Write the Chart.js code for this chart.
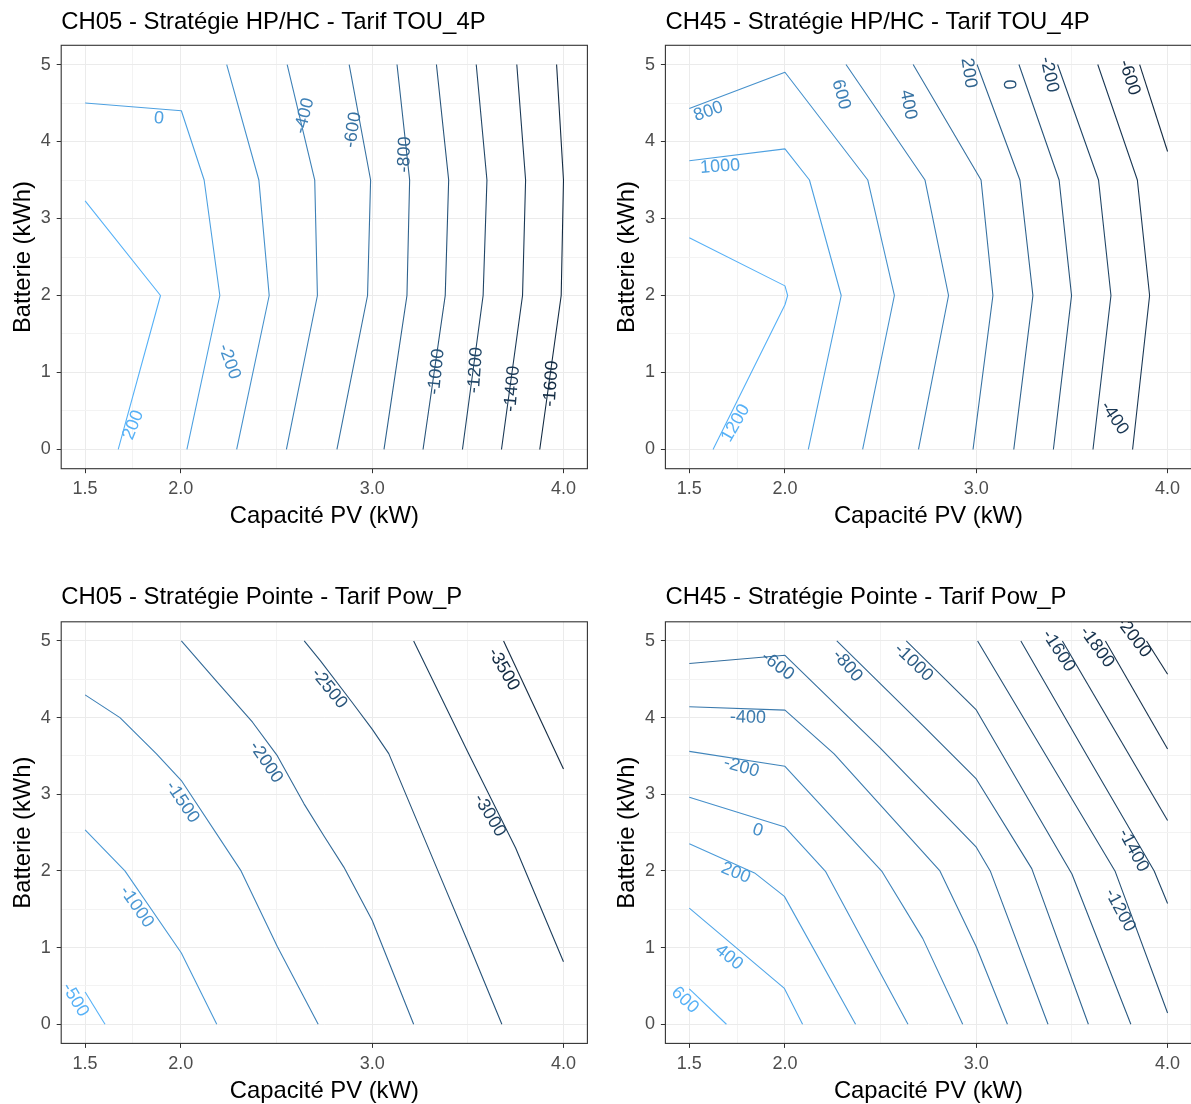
<!DOCTYPE html>
<html>
<head>
<meta charset="utf-8">
<script src="https://cdn.jsdelivr.net/npm/chart.js@4.4.1/dist/chart.umd.min.js"></script>
<style>
  html, body { margin: 0; padding: 0; background: #fff; }
  body { width: 1191px; height: 1104px; position: relative; overflow: hidden; }
  canvas { position: absolute; }
</style>
</head>
<body>
<canvas id="c1" width="595" height="552" style="left:0;top:0"></canvas>
<canvas id="c2" width="600" height="552" style="left:596px;top:0"></canvas>
<canvas id="c3" width="595" height="556" style="left:0;top:552px"></canvas>
<canvas id="c4" width="600" height="556" style="left:596px;top:552px"></canvas>
<script>
// axes
const pvMajor = [1.5, 2.0, 3.0, 4.0];
const pvMinor = [1.75, 2.5, 3.5];
const battMajor = [0, 1, 2, 3, 4, 5];
const battMinor = [0.5, 1.5, 2.5, 3.5, 4.5];
const pvRange = [1.375, 4.125];
const battRange = [-0.25, 5.25];

// CH05 - HP/HC - TOU_4P
const hpLevels05 = [200, 0, -200, -400, -600, -800, -1000, -1200, -1400, -1600];
const hpLines05 = [
  [[1.5, 3.23], [1.894, 2.0], [1.673, 0]],
  [[1.5, 4.5], [2.003, 4.4], [2.122, 3.5], [2.204, 2.0], [2.032, 0]],
  [[2.24, 5], [2.408, 3.5], [2.462, 2.0], [2.292, 0]],
  [[2.556, 5], [2.70, 3.5], [2.714, 2.0], [2.552, 0]],
  [[2.88, 5], [2.992, 3.5], [2.976, 2.0], [2.816, 0]],
  [[3.13, 5], [3.196, 3.5], [3.182, 2.0], [3.062, 0]],
  [[3.336, 5], [3.40, 3.5], [3.382, 2.0], [3.266, 0]],
  [[3.544, 5], [3.60, 3.5], [3.58, 2.0], [3.472, 0]],
  [[3.756, 5], [3.802, 3.5], [3.786, 2.0], [3.676, 0]],
  [[3.964, 5], [4.0, 3.5], [3.988, 2.0], [3.876, 0]]
];
const hpLabels05 = [
  [0, 1.886, 4.30, 5], [200, 1.751, 0.317, -68], [-200, 2.253, 1.14, 70],
  [-400, 2.646, 4.334, -76], [-600, 2.90, 4.15, -81], [-800, 3.17, 3.83, -88],
  [-1000, 3.336, 1.01, -84], [-1200, 3.54, 1.03, -86], [-1400, 3.732, 0.787, -85],
  [-1600, 3.936, 0.854, -86]
];

// CH45 - HP/HC - TOU_4P
const hpLevels45 = [1200, 1000, 800, 600, 400, 200, 0, -200, -400, -600];
const hpLines45 = [
  [[1.5, 2.75], [2.0, 2.125], [2.014, 2.0], [2.0, 1.88], [1.624, 0]],
  [[1.5, 3.75], [2.0, 3.905], [2.128, 3.5], [2.294, 2.0], [2.122, 0]],
  [[1.5, 4.43], [2.0, 4.9], [2.433, 3.5], [2.572, 2.0], [2.406, 0]],
  [[2.319, 5], [2.732, 3.5], [2.855, 2.0], [2.698, 0]],
  [[2.67, 5], [3.025, 3.5], [3.087, 2.0], [2.983, 0]],
  [[3.004, 5], [3.228, 3.5], [3.296, 2.0], [3.196, 0]],
  [[3.223, 5], [3.433, 3.5], [3.498, 2.0], [3.403, 0]],
  [[3.425, 5], [3.639, 3.5], [3.704, 2.0], [3.61, 0]],
  [[3.635, 5], [3.842, 3.5], [3.906, 2.0], [3.817, 0]],
  [[3.854, 5], [4.0, 3.87]]
];
const hpLabels45 = [
  [1200, 1.742, 0.34, -60], [1000, 1.661, 3.674, -4], [800, 1.60, 4.39, -20],
  [600, 2.293, 4.61, 75], [400, 2.644, 4.478, 79], [200, 2.96, 4.89, 82],
  [0, 3.17, 4.74, 88], [-200, 3.381, 4.87, 78], [-400, 3.722, 0.407, 56],
  [-600, 3.80, 4.83, 72]
];

// CH05 - Pointe - Pow_P
const ptLevels05 = [-500, -1000, -1500, -2000, -2500, -3000, -3500];
const ptLines05 = [
  [[1.5, 0.42], [1.604, 0]],
  [[1.5, 2.537], [1.708, 2.0], [2.003, 0.93], [2.188, 0]],
  [[1.5, 4.297], [1.682, 4.0], [1.873, 3.526], [2.003, 3.179], [2.315, 2.0], [2.505, 1.01], [2.718, 0]],
  [[2.003, 5], [2.185, 4.48], [2.375, 3.94], [2.505, 3.5], [2.644, 2.875], [2.75, 2.45], [2.852, 2.05], [3.0, 1.357], [3.217, 0]],
  [[2.645, 5], [2.73, 4.74], [2.895, 4.2], [3.0, 3.85], [3.087, 3.53], [3.339, 2.03], [3.496, 1.1], [3.678, 0]],
  [[3.217, 5], [3.5, 3.55], [3.75, 2.3], [4.0, 0.815]],
  [[3.687, 5], [4.0, 3.33]]
];
const ptLabels05 = [
  [-500, 1.448, 0.317, 59], [-1000, 1.769, 1.531, 55], [-1500, 2.008, 2.897, 56],
  [-2000, 2.445, 3.417, 56], [-2500, 2.775, 4.38, 51], [-3000, 3.614, 2.723, 59],
  [-3500, 3.687, 4.63, 60]
];

// CH45 - Pointe - Pow_P
const ptLevels45 = [600, 400, 200, 0, -200, -400, -600, -800, -1000, -1200, -1400, -1600, -1800, -2000];
const ptLines45 = [
  [[1.5, 0.46], [1.694, 0]],
  [[1.5, 1.515], [1.997, 0.467], [2.092, 0]],
  [[1.5, 2.354], [1.841, 1.974], [1.997, 1.668], [2.369, 0]],
  [[1.5, 2.962], [2.0, 2.572], [2.213, 1.99], [2.643, 0]],
  [[1.5, 3.56], [2.0, 3.365], [2.508, 1.99], [2.72, 1.12], [2.929, 0]],
  [[1.5, 4.141], [2.0, 4.098], [2.257, 3.526], [2.81, 2.0], [3.0, 1.01], [3.163, 0]],
  [[1.5, 4.705], [2.0, 4.813], [2.5, 3.6], [3.0, 2.31], [3.073, 2.0], [3.375, 0]],
  [[2.271, 5], [2.72, 3.9], [3.0, 3.2], [3.29, 2.03], [3.586, 0]],
  [[2.634, 5], [3.0, 4.1], [3.5, 1.96], [3.808, 0]],
  [[3.007, 5], [3.366, 3.5], [3.725, 2.0], [4.0, 0.147]],
  [[3.233, 5], [3.58, 3.5], [3.93, 2.0], [4.0, 1.574]],
  [[3.45, 5], [4.0, 2.658]],
  [[3.675, 5], [4.0, 3.59]],
  [[3.89, 5], [4.0, 4.566]]
];
const ptLabels45 = [
  [600, 1.477, 0.314, 43], [400, 1.708, 0.873, 39], [200, 1.743, 1.974, 22],
  [0, 1.858, 2.528, 17], [-200, 1.772, 3.352, 16], [-400, 1.807, 4.0, 2],
  [-600, 1.962, 4.675, 37], [-800, 2.326, 4.675, 49], [-1000, 2.672, 4.718, 44],
  [-1200, 3.751, 1.487, 62], [-1400, 3.821, 2.268, 62], [-1600, 3.43, 4.87, 57],
  [-1800, 3.63, 4.92, 54], [-2000, 3.822, 5.05, 53]
];

const FONT = '"Liberation Sans", Arial, sans-serif';
const LOW = '#132B43';
const HIGH = '#56B1F7';

// ggplot's default gradient is interpolated in Lab space
function hexToRgb(h) {
  return [1, 3, 5].map(i => parseInt(h.substr(i, 2), 16));
}
function toLinear(c) {
  c /= 255;
  return c <= 0.04045 ? c / 12.92 : Math.pow((c + 0.055) / 1.055, 2.4);
}
function fromLinear(c) {
  c = c <= 0.0031308 ? 12.92 * c : 1.055 * Math.pow(c, 1 / 2.4) - 0.055;
  return Math.round(Math.max(0, Math.min(1, c)) * 255);
}
function rgbToLab(rgb) {
  const [r, g, b] = rgb.map(toLinear);
  const x = (0.4124 * r + 0.3576 * g + 0.1805 * b) / 0.95047;
  const y = 0.2126 * r + 0.7152 * g + 0.0722 * b;
  const z = (0.0193 * r + 0.1192 * g + 0.9505 * b) / 1.08883;
  const f = t => t > 0.008856 ? Math.cbrt(t) : 7.787 * t + 16 / 116;
  return [116 * f(y) - 16, 500 * (f(x) - f(y)), 200 * (f(y) - f(z))];
}
function labToRgb(lab) {
  const fy = (lab[0] + 16) / 116, fx = fy + lab[1] / 500, fz = fy - lab[2] / 200;
  const inv = t => t * t * t > 0.008856 ? t * t * t : (t - 16 / 116) / 7.787;
  const x = inv(fx) * 0.95047, y = inv(fy), z = inv(fz) * 1.08883;
  return [
    3.2406 * x - 1.5372 * y - 0.4986 * z,
    -0.9689 * x + 1.8758 * y + 0.0415 * z,
    0.0557 * x - 0.2040 * y + 1.0570 * z
  ].map(fromLinear);
}
const labLow = rgbToLab(hexToRgb(LOW));
const labHigh = rgbToLab(hexToRgb(HIGH));

function levelColour(level, levels) {
  const lo = Math.min(...levels), hi = Math.max(...levels);
  const t = (level - lo) / (hi - lo);
  const rgb = labToRgb(labLow.map((v, i) => v + (labHigh[i] - v) * t));
  return 'rgb(' + rgb.join(',') + ')';
}

function decoPlugin(panel) {
  return {
    id: 'deco',
    afterDatasetsDraw(chart) {
      const {ctx, chartArea: a, scales: {x, y}} = chart;
      ctx.save();
      ctx.beginPath();
      ctx.rect(a.left, a.top, a.right - a.left, a.bottom - a.top);
      ctx.clip();
      ctx.font = '18px ' + FONT;
      ctx.textAlign = 'center';
      ctx.textBaseline = 'middle';
      panel.labels.forEach(([lvl, lx, ly, ang]) => {
        ctx.save();
        ctx.translate(x.getPixelForValue(lx), y.getPixelForValue(ly));
        ctx.rotate(ang * Math.PI / 180);
        ctx.fillStyle = levelColour(lvl, panel.levels);
        ctx.fillText(String(lvl), 0, 0);
        ctx.restore();
      });
      ctx.restore();

      ctx.save();
      ctx.strokeStyle = '#333333';
      ctx.lineWidth = 1.1;
      ctx.strokeRect(a.left, a.top, a.right - a.left, a.bottom - a.top);
      ctx.restore();
    },
    afterDraw(chart) {
      const {ctx, chartArea: a} = chart;
      ctx.save();
      ctx.font = '23.9px ' + FONT;
      ctx.fillStyle = '#000000';
      ctx.textAlign = 'left';
      ctx.textBaseline = 'middle';
      ctx.fillText(panel.title, a.left, panel.titleY);
      ctx.restore();
    }
  };
}

function gridOpts(major) {
  return {
    color: c => (c.tick && major.includes(c.tick.value)) ? '#EBEBEB' : '#F3F3F3',
    lineWidth: 1,
    tickColor: c => (c.tick && major.includes(c.tick.value)) ? '#333333' : 'rgba(0,0,0,0)',
    tickLength: 4.5,
    tickWidth: 1
  };
}

function makeChart(id, panel) {
  const datasets = panel.lines.map((pts, i) => ({
    data: pts.map(([x, y]) => ({x: x, y: y})),
    showLine: true,
    pointRadius: 0,
    borderWidth: 1.1,
    borderColor: levelColour(panel.levels[i], panel.levels),
    borderJoinStyle: 'round',
    tension: 0,
    fill: false
  }));

  return new Chart(document.getElementById(id), {
    type: 'scatter',
    data: {datasets: datasets},
    options: {
      responsive: false,
      animation: false,
      events: [],
      layout: {padding: panel.padding},
      plugins: {
        legend: {display: false},
        tooltip: {enabled: false},
        title: {display: false}
      },
      scales: {
        x: {
          type: 'linear',
          min: pvRange[0],
          max: pvRange[1],
          afterBuildTicks: s => {
            s.ticks = pvMajor.concat(pvMinor).sort((a, b) => a - b).map(v => ({value: v}));
          },
          afterFit: s => { s.height = 62; },
          grid: gridOpts(pvMajor),
          border: {display: false},
          ticks: {
            autoSkip: false,
            maxRotation: 0,
            padding: 5,
            color: '#4D4D4D',
            font: {family: FONT, size: 18},
            callback: v => pvMajor.includes(v) ? v.toFixed(1) : ''
          },
          title: {
            display: true,
            text: 'Capacité PV (kW)',
            color: '#000000',
            font: {family: FONT, size: 23.8},
            padding: {top: 0, bottom: 0}
          }
        },
        y: {
          type: 'linear',
          min: battRange[0],
          max: battRange[1],
          afterBuildTicks: s => {
            s.ticks = battMajor.concat(battMinor).sort((a, b) => a - b).map(v => ({value: v}));
          },
          afterFit: s => { s.width = 61.2; },
          grid: gridOpts(battMajor),
          border: {display: false},
          ticks: {
            autoSkip: false,
            padding: 6,
            color: '#4D4D4D',
            font: {family: FONT, size: 18},
            callback: v => battMajor.includes(v) ? String(v) : ''
          },
          title: {
            display: true,
            text: 'Batterie (kWh)',
            color: '#000000',
            font: {family: FONT, size: 23.8},
            padding: {top: 8.7, bottom: 0}
          }
        }
      }
    },
    plugins: [decoPlugin(panel)]
  });
}

makeChart('c1', {
  title: 'CH05 - Stratégie HP/HC - Tarif TOU_4P', titleY: 22.4,
  levels: hpLevels05, lines: hpLines05, labels: hpLabels05,
  padding: {left: 0, top: 45.3, right: 7.6, bottom: 21.3}
});
makeChart('c2', {
  title: 'CH45 - Stratégie HP/HC - Tarif TOU_4P', titleY: 22.4,
  levels: hpLevels45, lines: hpLines45, labels: hpLabels45,
  padding: {left: 8.2, top: 45.3, right: 4.5, bottom: 21.3}
});
makeChart('c3', {
  title: 'CH05 - Stratégie Pointe - Tarif Pow_P', titleY: 45.2,
  levels: ptLevels05, lines: ptLines05, labels: ptLabels05,
  padding: {left: 0, top: 69.8, right: 7.6, bottom: 2.6}
});
makeChart('c4', {
  title: 'CH45 - Stratégie Pointe - Tarif Pow_P', titleY: 45.2,
  levels: ptLevels45, lines: ptLines45, labels: ptLabels45,
  padding: {left: 8.2, top: 69.8, right: 4.5, bottom: 2.6}
});
</script>
</body>
</html>
